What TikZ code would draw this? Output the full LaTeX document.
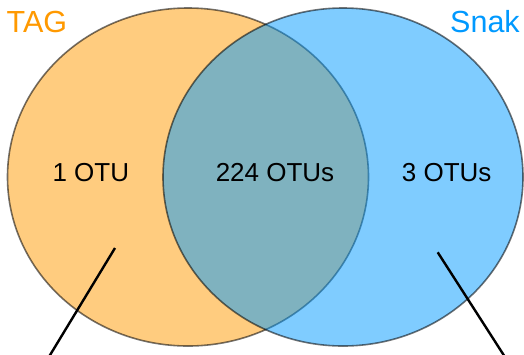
\documentclass[tikz,border=0pt]{standalone}
\usepackage{fontspec}
\setmainfont{Liberation Sans}
\definecolor{tagorange}{HTML}{FF9900}
\definecolor{snakblue}{HTML}{0099FF}
\begin{document}
\begin{tikzpicture}[x=1pt,y=-1pt,
  setborder/.style={draw=black, draw opacity=0.55, line width=1.6pt},
  count/.style={anchor=base, inner sep=0pt, font=\fontsize{26}{30}\selectfont},
  title/.style={anchor=base west, inner sep=0pt, font=\fontsize{30.5}{34}\selectfont},
  pointer/.style={draw=black, line width=2.4pt}]
\useasboundingbox (0,0) rectangle (524,354);
\clip (0,0) rectangle (524,354);
% sets
\path[setborder, fill=tagorange, fill opacity=0.5] (188,177) ellipse [x radius=180.5, y radius=169];
\path[setborder, fill=snakblue, fill opacity=0.5] (343,177) ellipse [x radius=180, y radius=169];
% titles
\node[title, text=tagorange] (tag) at (6.5,32.4) {TAG};
\node[title, text=snakblue] (snak) at (450,32.4) {Snak};
% counts
\node[count] (left) at (90.8,181.6) {1 OTU};
\node[count] (mid) at (275,181.6) {224 OTUs};
\node[count] (right) at (446.7,181.6) {3 OTUs};
% pointers
\coordinate (lp1) at (115,248);
\coordinate (lp2) at (46.6,360.7);
\coordinate (rp1) at (437.7,252.3);
\coordinate (rp2) at (506.9,360);
\draw[pointer] (lp1) -- (lp2);
\draw[pointer] (rp1) -- (rp2);
\end{tikzpicture}
\end{document}
